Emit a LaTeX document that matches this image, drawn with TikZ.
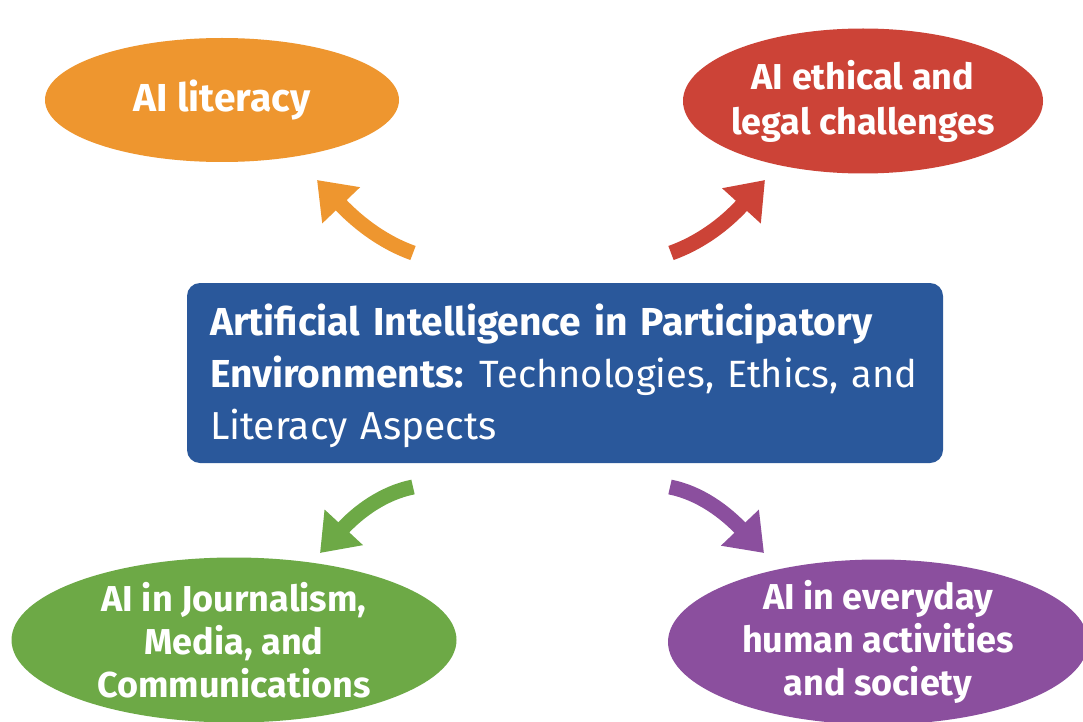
\documentclass[tikz,border=0pt]{standalone}
\usepackage{fontspec}
\setmainfont{Fira Sans}
\usetikzlibrary{shapes.geometric,arrows.meta}
\definecolor{orangeC}{HTML}{EE962F}
\definecolor{redC}{HTML}{CC4337}
\definecolor{blueC}{HTML}{2A589B}
\definecolor{greenC}{HTML}{6DA946}
\definecolor{purpleC}{HTML}{8B4F9E}
\tikzset{
  ell/.style={ellipse, inner sep=-60pt, text=white, align=center, font=\bfseries\fontsize{36}{45}\selectfont},
  mainbox/.style={rectangle, rounded corners=13pt, fill=blueC, text=white, align=left,
    inner xsep=23pt, inner ysep=0pt, minimum width=756pt, minimum height=180pt, text width=710pt,
    font=\fontsize{39}{52}\selectfont},
  bigarrow/.style={line width=15pt, -{Triangle[width=50pt,length=35pt]}}
}
\begin{document}
\begin{tikzpicture}[x=1pt,y=-1pt]
\useasboundingbox (0,0) rectangle (1083,722);
\clip (0,0) rectangle (1083,722);
\fill[white] (0,0) rectangle (1083,722);

\node[ell, fill=orangeC, minimum width=354pt, minimum height=124pt, font=\bfseries\fontsize{39}{45}\selectfont] (lit) at (222,100) {AI literacy};
\node[ell, fill=redC, minimum width=360pt, minimum height=145pt] (eth) at (863,101) {AI ethical and\\legal challenges};
\node[ell, fill=greenC, minimum width=445pt, minimum height=165pt, font=\bfseries\fontsize{36}{43}\selectfont] (jou) at (234,640) {AI in Journalism,\\Media, and\\Communications};
\node[ell, fill=purpleC, minimum width=420pt, minimum height=165pt, font=\bfseries\fontsize{36}{43}\selectfont] (soc) at (878,642) {AI in everyday\\human activities\\and society};

\node[mainbox] (main) at (565,373) {\rule{0pt}{37pt}\textbf{Artificial Intelligence in Participatory}\\\makebox[710pt][l]{\textbf{Environments:}\hspace{-3pt} {\fontsize{38}{52}\selectfont Technologies, Ethics, and}}\\Literacy Aspects};

\coordinate (oa) at (413,253);
\coordinate (ob) at (317,180);
\coordinate (ra) at (671,253);
\coordinate (rb) at (765,180);
\coordinate (ga) at (413,487);
\coordinate (gb) at (320,553);
\coordinate (pa) at (670,487);
\coordinate (pb) at (764,553);

\draw[bigarrow, orangeC] (oa) .. controls (385,243) and (360,225) .. (ob);
\draw[bigarrow, redC] (ra) .. controls (699,243) and (724,225) .. (rb);
\draw[bigarrow, greenC] (ga) .. controls (383,493) and (358,512) .. (gb);
\draw[bigarrow, purpleC] (pa) .. controls (700,493) and (725,512) .. (pb);
\end{tikzpicture}
\end{document}
